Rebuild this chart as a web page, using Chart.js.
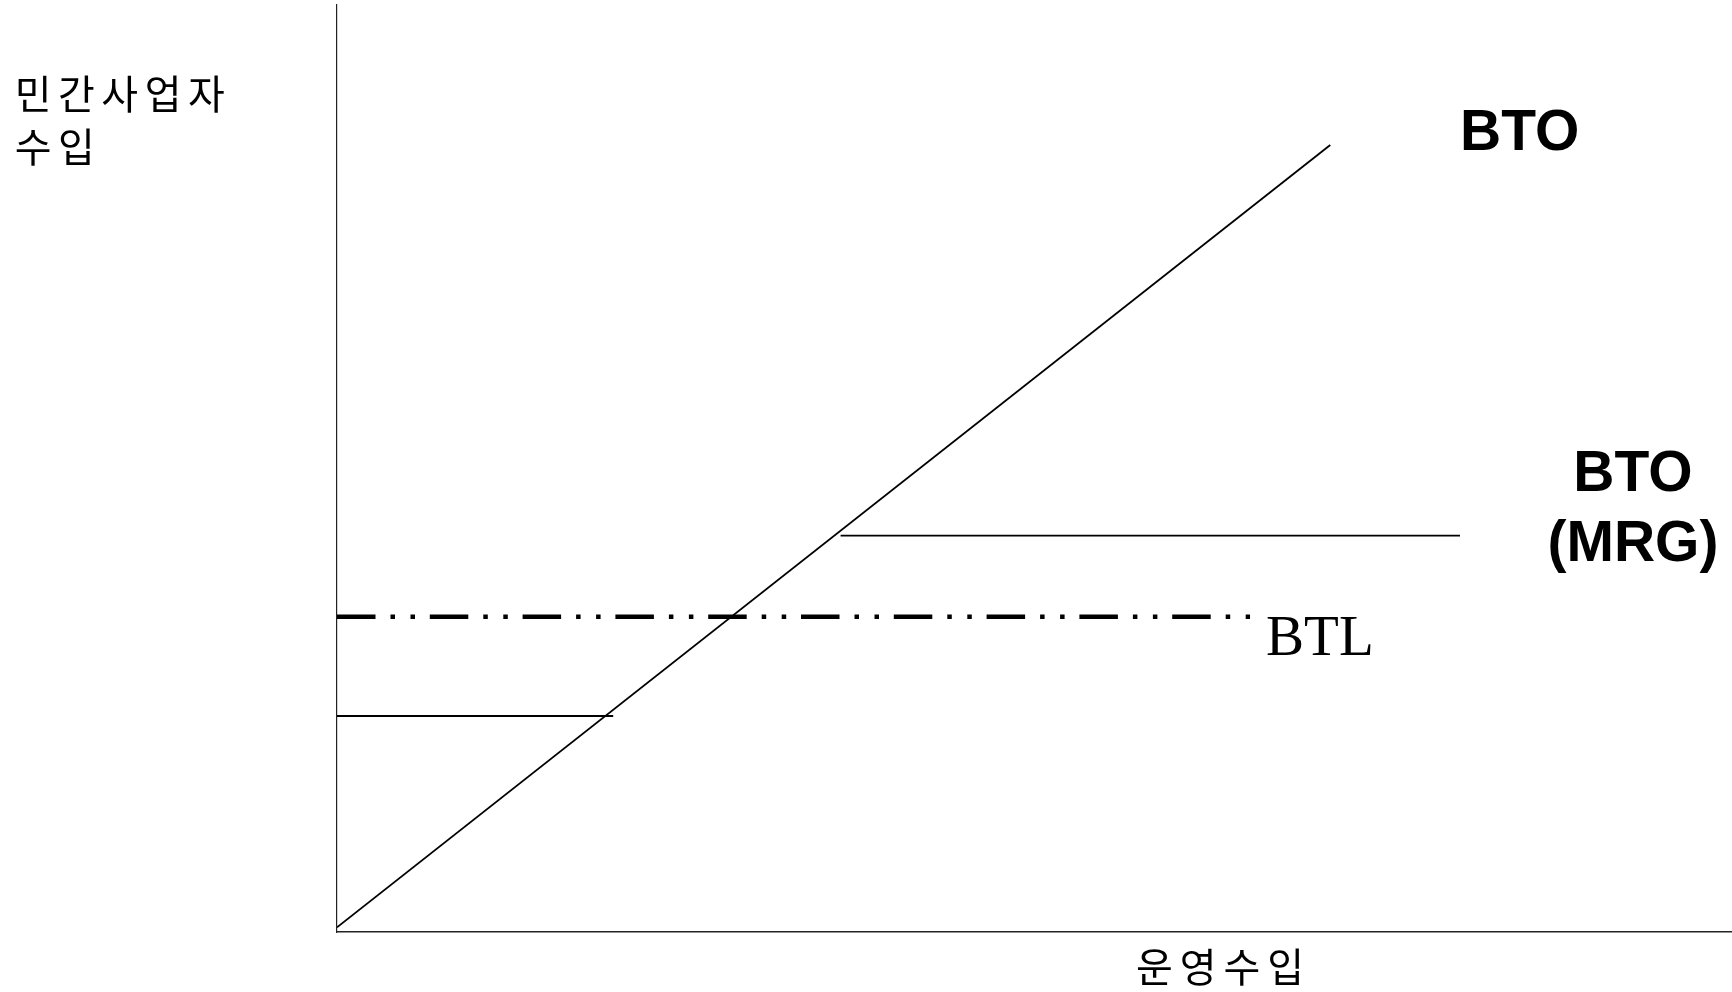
<!DOCTYPE html>
<html>
<head>
<meta charset="utf-8">
<script src="https://cdn.jsdelivr.net/npm/chart.js@4/dist/chart.umd.min.js"></script>
<style>
  html, body { margin: 0; padding: 0; background: #fff; }
  canvas { display: block; }
</style>
</head>
<body>
<canvas id="chart" width="1732" height="992"></canvas>
<script>
// revenue lines, in arbitrary units (0..100 on both axes)
const btoX = [0, 71.2];
const btoY = [0.5, 84.9];
const floorX = [0, 19.8];
const floorY = [23.3, 23.3];
const mrgX = [36.1, 80.5];
const mrgY = [42.75, 42.75];
const btlX = [0, 65.45];
const btlY = [34, 34];

const yTitle = ['민간사업자', '수입'];
const xTitle = '운영수입';
const lineLabels = ['BTO', 'BTO', '(MRG)', 'BTL'];

const pts = (xs, ys) => xs.map((x, i) => ({ x, y: ys[i] }));

const korean = '"Noto Sans CJK KR", "Noto Sans", sans-serif';
const boldSans = 'bold 57px "Liberation Sans", Arial, sans-serif';

// where each text sits, in data units of the scales
const textSpots = [
  { text: yTitle[0], x: -23.1, y: 90.45, font: `40px ${korean}`, align: 'left', base: 'middle', gap: 6.5 },
  { text: yTitle[1], x: -23.1, y: 84.7, font: `40px ${korean}`, align: 'left', base: 'middle', gap: 6.5 },
  { text: xTitle, x: 63.3, y: -3.8, font: `40px ${korean}`, align: 'center', base: 'middle', gap: 7 },
  { text: lineLabels[0], x: 80.5, y: 84.4, font: boldSans, align: 'left', base: 'alphabetic' },
  { text: lineLabels[1], x: 92.9, y: 47.6, font: boldSans, align: 'center', base: 'alphabetic' },
  { text: lineLabels[2], x: 92.9, y: 40.0, font: boldSans, align: 'center', base: 'alphabetic' },
  { text: lineLabels[3], x: 66.6, y: 29.9, font: '57px "Liberation Serif", "Times New Roman", serif', align: 'left', base: 'alphabetic' }
];

const textPlugin = {
  id: 'texts',
  afterDraw(chart) {
    const { ctx, scales } = chart;
    ctx.save();
    ctx.fillStyle = '#000';
    textSpots.forEach((t) => {
      ctx.font = t.font;
      ctx.letterSpacing = (t.gap || 0) + 'px';
      ctx.textAlign = t.align;
      ctx.textBaseline = t.base;
      let x = scales.x.getPixelForValue(t.x);
      // trailing spacing shifts centered text, take half of it back
      if (t.align === 'center' && t.gap) x += t.gap / 2;
      ctx.fillText(t.text, x, scales.y.getPixelForValue(t.y));
    });
    ctx.restore();
  }
};

const thin = { borderColor: '#000', borderWidth: 1.8, pointRadius: 0, showLine: true, fill: false, tension: 0 };

new Chart(document.getElementById('chart'), {
  type: 'scatter',
  data: {
    datasets: [
      { ...thin, label: 'BTO', data: pts(btoX, btoY) },
      { ...thin, label: 'floor', data: pts(floorX, floorY) },
      { ...thin, label: 'BTO (MRG)', data: pts(mrgX, mrgY) },
      {
        ...thin,
        label: 'BTL',
        data: pts(btlX, btlY),
        borderWidth: 4.5,
        borderCapStyle: 'butt',
        borderDash: [38.5, 15, 4.5, 15.5, 4.5, 14.8]
      }
    ]
  },
  options: {
    responsive: false,
    animation: false,
    devicePixelRatio: 1,
    layout: { padding: { left: 337, top: 5, right: 0, bottom: 60 } },
    plugins: { legend: { display: false }, tooltip: { enabled: false } },
    elements: { line: { clip: false } },
    scales: {
      x: {
        type: 'linear',
        min: 0,
        max: 100,
        ticks: { display: false },
        grid: { display: false, drawTicks: false },
        border: { display: true, color: '#222', width: 1.5 },
        afterFit(s) { s.height = 0; }
      },
      y: {
        type: 'linear',
        min: 0,
        max: 100,
        ticks: { display: false },
        grid: { display: false, drawTicks: false },
        border: { display: true, color: '#222', width: 1.2 },
        afterFit(s) { s.width = 0; }
      }
    }
  },
  plugins: [textPlugin]
});
</script>
</body>
</html>
